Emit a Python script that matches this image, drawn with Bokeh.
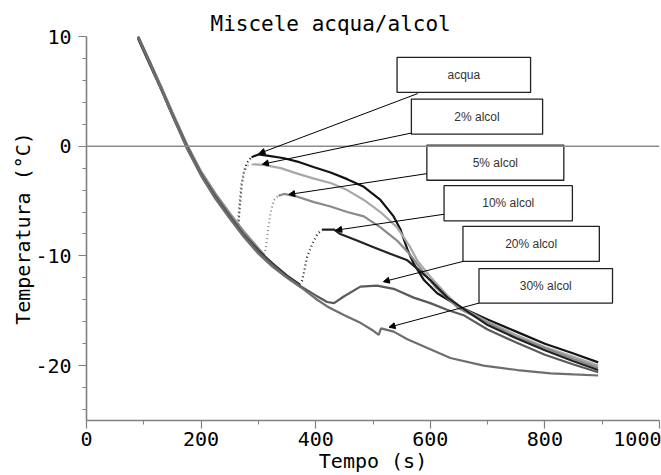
from bokeh.plotting import figure
from bokeh.models import Range1d, Span, Arrow, NormalHead, FixedTicker
from bokeh.core.properties import value
from bokeh.embed import file_html
from bokeh.resources import INLINE

# ---------------- data ----------------
acqua_x = [90, 110, 130, 150, 176, 200, 225, 250, 265, 268, 271, 275, 280, 288, 300, 321, 345, 368,
           396, 426, 455, 484, 513, 536, 548, 560, 571, 589, 612, 650, 700, 750, 800, 850, 893]
acqua_y = [10, 7.7, 5.4, 3.0, 0.0, -2.4, -4.4, -6.2, -7.2, -5.2, -3.5, -2.3, -1.5, -1.0, -0.75, -0.9, -1.1, -1.4,
           -1.9, -2.4, -3.0, -3.7, -4.9, -6.4, -7.6, -9.4, -10.7, -12.2, -13.4, -14.6, -15.8, -16.9, -18.0, -18.9, -19.7]

alc2_x = [90, 110, 130, 150, 176, 200, 225, 250, 264, 267, 270, 275, 282, 290, 309, 339, 368, 397,
          426, 455, 484, 513, 542, 565, 577, 600, 630, 650, 700, 750, 800, 850, 893]
alc2_y = [9.9, 7.6, 5.3, 2.9, -0.1, -2.5, -4.5, -6.3, -7.1, -5.0, -3.5, -2.3, -1.75, -1.65, -1.7, -2.0, -2.5, -2.95,
          -3.35, -4.0, -4.9, -6.0, -7.4, -9.2, -10.4, -11.9, -13.6, -14.6, -16.0, -17.2, -18.3, -19.2, -20.0]

alc5_x = [90, 110, 130, 150, 176, 200, 225, 250, 275, 300, 310, 313, 316, 321, 327, 335, 345, 368,
          397, 426, 455, 484, 513, 542, 565, 588, 610, 650, 700, 750, 800, 850, 893]
alc5_y = [10, 7.8, 5.5, 3.1, 0.1, -2.3, -4.3, -6.1, -7.8, -9.3, -9.9, -9.3, -8.0, -6.1, -4.9, -4.5, -4.35, -4.6,
          -5.1, -5.5, -6.0, -6.4, -7.4, -8.6, -9.9, -11.5, -12.9, -14.8, -16.1, -17.4, -18.4, -19.4, -20.2]

alc10_x = [90, 110, 130, 150, 176, 200, 225, 250, 275, 300, 325, 350, 372, 376, 379, 385, 394, 403,
           411, 432, 443, 472, 501, 530, 560, 577, 600, 630, 660, 700, 750, 800, 850, 893]
alc10_y = [9.8, 7.5, 5.2, 2.8, -0.2, -2.6, -4.6, -6.4, -8.1, -9.5, -10.7, -11.8, -12.6, -12.3, -11.6, -10.1, -8.9, -8.0,
           -7.6, -7.6, -8.0, -8.6, -9.2, -9.8, -10.4, -11.15, -12.2, -13.8, -14.9, -16.3, -17.5, -18.6, -19.6, -20.4]

alc20_x = [90, 110, 130, 150, 176, 200, 225, 250, 275, 300, 325, 350, 375, 400, 420, 432, 449, 478,
           507, 536, 571, 600, 629, 658, 700, 750, 800, 850, 893]
alc20_y = [10, 7.7, 5.3, 2.9, -0.1, -2.5, -4.6, -6.4, -8.1, -9.6, -10.8, -11.9, -12.8, -13.6, -14.2, -14.3, -13.7, -12.8,
           -12.7, -13.0, -13.8, -14.3, -14.9, -15.4, -16.7, -17.9, -19.0, -19.9, -20.6]

alc30_x = [90, 110, 130, 150, 176, 200, 225, 250, 275, 300, 325, 350, 375, 400, 420, 450, 478, 500,
           510, 514, 536, 560, 595, 635, 693, 752, 810, 850, 893]
alc30_y = [9.9, 7.6, 5.2, 2.8, -0.3, -2.7, -4.8, -6.6, -8.3, -9.8, -11.0, -12.0, -12.9, -13.9, -14.6, -15.4, -16.1, -16.8,
           -17.2, -16.6, -16.9, -17.6, -18.4, -19.3, -20.0, -20.4, -20.7, -20.8, -20.9]

labels = ["acqua", "2% alcol", "5% alcol", "10% alcol", "20% alcol", "30% alcol"]
x_ticks = [0, 200, 400, 600, 800, 1000]
y_ticks = [-20, -10, 0, 10]
y_tick_labels = {-20: "-20", -10: "-10", 0: "0", 10: "10"}

# ---------------- styling / layout ----------------
series = [
    (acqua_x, acqua_y, "#141414", (8, 13)),
    (alc2_x, alc2_y, "#a8a8a8", (8, 13)),
    (alc5_x, alc5_y, "#8a8a8a", (10, 15)),
    (alc10_x, alc10_y, "#222222", (12, 18)),
    (alc20_x, alc20_y, "#5a5a5a", None),
    (alc30_x, alc30_y, "#6e6e6e", None),
]

# box [x0, x1, y_bottom, y_top] and arrow start / tip (data units)
boxes = [
    (542, 775, 4.9, 8.1),
    (567, 796, 1.1, 4.3),
    (594, 833, -3.1, 0.1),
    (624, 848, -6.8, -3.6),
    (657, 895, -10.5, -7.3),
    (685, 918, -14.3, -11.15),
]
arrows = [
    (578, 4.8, 301, -0.67),
    (567, 1.2, 307, -1.64),
    (594, -2.5, 353, -4.4),
    (624, -6.2, 435, -7.66),
    (657, -10.5, 518, -12.35),
    (685, -14.3, 528, -16.5),
]

MONO = "DejaVu Sans Mono"

p = figure(width=661, height=475, x_range=Range1d(0, 1000), y_range=Range1d(-25, 10),
           output_backend="svg", toolbar_location=None,
           min_border_left=86, min_border_right=2, min_border_top=36, min_border_bottom=55)
p.outline_line_color = None
p.grid.visible = False
p.background_fill_color = "white"

p.title.text = "Miscele acqua/alcol"
p.title.text_font = MONO
p.title.text_font_size = "21px"
p.title.text_font_style = "normal"
p.title.align = "left"
p.title.offset = 124
p.title.standoff = 2
p.title.text_color = "black"

p.xaxis.ticker = FixedTicker(ticks=x_ticks, minor_ticks=[100, 300, 500, 700, 900])
p.yaxis.ticker = FixedTicker(ticks=y_ticks, minor_ticks=[-24, -22, -18, -16, -14, -12, -8, -6, -4, -2, 2, 4, 6, 8])
p.yaxis.major_label_overrides = y_tick_labels
p.xaxis.axis_label = "Tempo (s)"
p.yaxis.axis_label = "Temperatura (°C)"
for ax in (p.xaxis, p.yaxis):
    ax.axis_line_color = "#808080"
    ax.axis_line_width = 1.6
    ax.major_tick_line_color = "#808080"
    ax.minor_tick_line_color = "#808080"
    ax.major_tick_line_width = 1.2
    ax.minor_tick_line_width = 1.0
    ax.major_tick_in = 0
    ax.major_tick_out = 8
    ax.minor_tick_in = 0
    ax.minor_tick_out = 4
    ax.major_label_text_font = MONO
    ax.major_label_text_font_size = "20px"
    ax.major_label_text_color = "black"
    ax.axis_label_text_font = MONO
    ax.axis_label_text_font_size = "20px"
    ax.axis_label_text_font_style = "normal"
    ax.axis_label_text_color = "black"
p.xaxis.major_label_standoff = 3
p.xaxis.axis_label_standoff = 0
p.yaxis.major_label_standoff = 7
p.yaxis.axis_label_standoff = -3

p.add_layout(Span(location=0, dimension="width", line_color="#8c8c8c", line_width=1.6))

for xs, ys, col, rise in series:
    if rise is None:
        p.line(xs, ys, line_color=col, line_width=2.2)
    else:
        a, b = rise
        p.line(xs[:a + 1], ys[:a + 1], line_color=col, line_width=2.2)
        p.line(xs[a:b + 1], ys[a:b + 1], line_color=col, line_width=2.2, line_dash="1 3")
        p.line(xs[b:], ys[b:], line_color=col, line_width=2.2)

for (x0, y0, x1, y1) in arrows:
    p.add_layout(Arrow(end=NormalHead(size=6, fill_color="black", line_color="black"),
                       x_start=x0, y_start=y0, x_end=x1, y_end=y1,
                       line_color="black", line_width=1))

for (bx0, bx1, by0, by1), lab in zip(boxes, labels):
    p.quad(left=[bx0], right=[bx1], bottom=[by0], top=[by1],
           fill_color="white", line_color="#222222", line_width=1.3)
    p.text(x=[(bx0 + bx1) / 2], y=[(by0 + by1) / 2], text=[lab],
           text_font=value("Liberation Sans"), text_font_size="12px", text_color="#333333",
           text_align="center", text_baseline="middle")

open("out.html", "w").write(file_html(p, INLINE))
